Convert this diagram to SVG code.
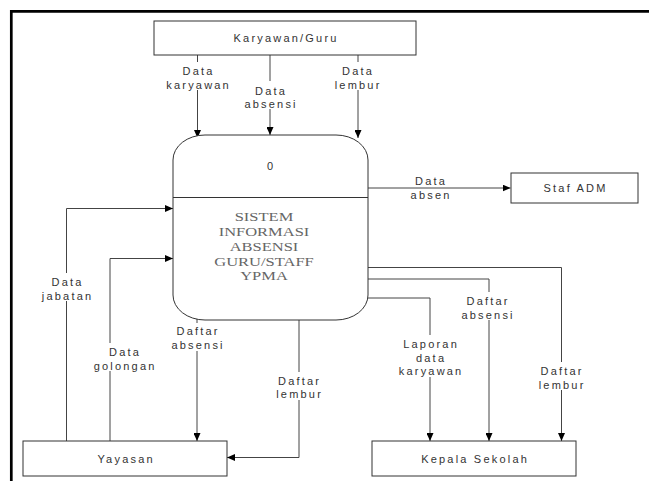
<svg xmlns="http://www.w3.org/2000/svg" width="649" height="481" viewBox="0 0 649 481">
<style>
.t{font-family:"Liberation Sans",Arial,sans-serif;font-size:11px;fill:#333;text-anchor:middle;letter-spacing:2.2px}
.s{font-family:"Liberation Serif","Times New Roman",serif;font-size:12.5px;fill:#666;text-anchor:middle;transform:scaleX(1.32);transform-box:fill-box;transform-origin:center}
.box{fill:#fff;stroke:#333;stroke-width:1}
.ln{fill:none;stroke:#444;stroke-width:1;marker-end:url(#ah)}
.bg{fill:#fff}
</style>
<defs>
<marker id="ah" markerUnits="userSpaceOnUse" markerWidth="8" markerHeight="7" refX="8" refY="3.5" orient="auto">
<path d="M0,0 L8,3.5 L0,7 z" fill="#000"/>
</marker>
</defs>
<rect width="649" height="481" fill="#fff"/>
<path d="M11.3,481 V11.3 H649" fill="none" stroke="#000" stroke-width="2.7"/>

<g id="connectors">
<path class="ln" d="M197.5,55 V138"/>
<path class="ln" d="M270,55 V135"/>
<path class="ln" d="M358,55 V138"/>
<path class="ln" d="M368,188 H510.5"/>
<path class="ln" d="M66.5,441 V208.5 H173"/>
<path class="ln" d="M110,441 V258.5 H173"/>
<path class="ln" d="M197,318 V441"/>
<path class="ln" d="M299,320 V457.5 H227"/>
<path class="ln" d="M368,298 H430 V441"/>
<path class="ln" d="M368,279 H489 V441"/>
<path class="ln" d="M368,267.5 H561.5 V441"/>

<rect class="bg" x="163" y="62" width="68" height="28"/>
<text class="t" x="198.6"><tspan x="198.6" y="75">Data</tspan><tspan x="198.6" y="88.5">karyawan</tspan></text>
<rect class="bg" x="242" y="81" width="56" height="28"/>
<text class="t" x="271.1"><tspan x="271.1" y="94.5">Data</tspan><tspan x="271.1" y="108">absensi</tspan></text>
<rect class="bg" x="332" y="62" width="50" height="28"/>
<text class="t" x="358.1"><tspan x="358.1" y="75">Data</tspan><tspan x="358.1" y="88.5">lembur</tspan></text>
<text class="t" x="431.1"><tspan x="431.1" y="185">Data</tspan><tspan x="431.1" y="198.5">absen</tspan></text>
<rect class="bg" x="40" y="273" width="53" height="28"/>
<text class="t" x="67.6"><tspan x="67.6" y="286">Data</tspan><tspan x="67.6" y="299.5">jabatan</tspan></text>
<rect class="bg" x="91" y="343" width="66" height="28"/>
<text class="t" x="125.1"><tspan x="125.1" y="356">Data</tspan><tspan x="125.1" y="369.5">golongan</tspan></text>
<rect class="bg" x="170" y="323" width="55" height="28"/>
<text class="t" x="198.1"><tspan x="198.1" y="335">Daftar</tspan><tspan x="198.1" y="348.5">absensi</tspan></text>
<rect class="bg" x="274" y="372" width="50" height="28"/>
<text class="t" x="299.6"><tspan x="299.6" y="384.5">Daftar</tspan><tspan x="299.6" y="398">lembur</tspan></text>
<rect class="bg" x="460" y="292" width="56" height="28"/>
<text class="t" x="488.1"><tspan x="488.1" y="305">Daftar</tspan><tspan x="488.1" y="318.5">absensi</tspan></text>
<rect class="bg" x="396" y="335" width="68" height="42"/>
<text class="t" x="431.1"><tspan x="431.1" y="348">Laporan</tspan><tspan x="431.1" y="361.5">data</tspan><tspan x="431.1" y="375">karyawan</tspan></text>
<rect class="bg" x="536" y="362" width="50" height="28"/>
<text class="t" x="562.1"><tspan x="562.1" y="375">Daftar</tspan><tspan x="562.1" y="388.5">lembur</tspan></text>
</g>

<g id="karyawan-guru">
<rect class="box" x="154" y="21" width="262" height="34"/>
<text class="t" x="286.1" y="42">Karyawan/Guru</text>
</g>

<g id="proses-0">
<rect class="box" x="173" y="135" width="195" height="185" rx="32" ry="25"/>
<line x1="173" y1="197.5" x2="368" y2="197.5" stroke="#333" stroke-width="1"/>
<text class="t" x="271.1" y="170">0</text>
<text class="s" x="264"><tspan x="264" y="221.5">SISTEM</tspan><tspan x="264" y="236.2">INFORMASI</tspan><tspan x="264" y="250.9">ABSENSI</tspan><tspan x="264" y="265.6">GURU/STAFF</tspan><tspan x="264" y="280.3">YPMA</tspan></text>
</g>

<g id="staf-adm">
<rect class="box" x="511" y="173" width="127" height="30"/>
<text class="t" x="575.6" y="192">Staf ADM</text>
</g>

<g id="yayasan">
<rect class="box" x="23" y="441" width="204" height="35"/>
<text class="t" x="126.1" y="462.5">Yayasan</text>
</g>

<g id="kepala-sekolah">
<rect class="box" x="372" y="441" width="204" height="35"/>
<text class="t" x="475.1" y="462.5">Kepala Sekolah</text>
</g>
</svg>
